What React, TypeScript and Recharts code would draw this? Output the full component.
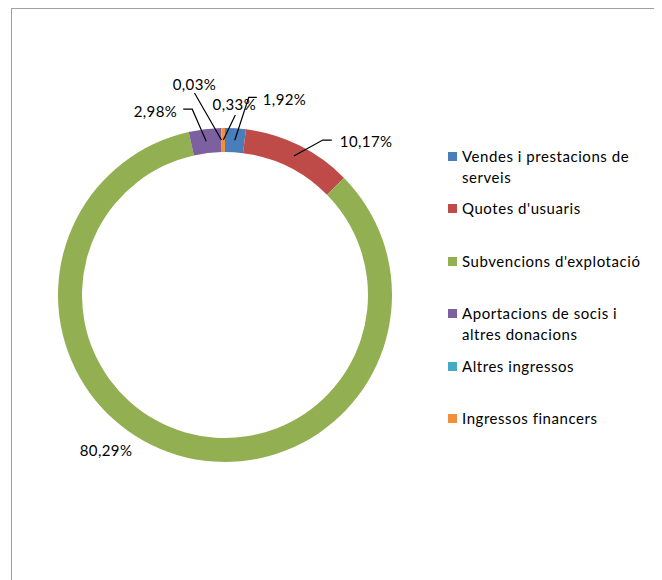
import { Cell, Legend, Pie, PieChart } from "recharts";

const categories = [
  "Vendes i prestacions de serveis",
  "Quotes d'usuaris",
  "Subvencions d'explotació",
  "Aportacions de socis i altres donacions",
  "Altres ingressos",
  "Ingressos financers",
];
const shares = [1.92, 10.17, 80.29, 2.98, 0.03, 0.33];
const shareLabels = ["1,92%", "10,17%", "80,29%", "2,98%", "0,03%", "0,33%"];
const colors = ["#4a7ebb", "#be4b48", "#92b052", "#7d60a0", "#46aac5", "#f38f3c"];

// manual label placement (like the hand-dragged labels in the original), relative to the slice's mid point on the ring
const labelLayout = [
  { elbow: [14, -43], tail: 8, text: [28, -41], anchor: "start" },
  { elbow: [29, -16], tail: 9, text: [46, -15], anchor: "start" },
  { elbow: null, tail: 0, text: [-75, 6], anchor: "middle" },
  { elbow: [-14, -32], tail: -9, text: [-29, -30], anchor: "end" },
  { elbow: [-27, -47], tail: 0, text: [-27, -56], anchor: "middle" },
  { elbow: [12, -25], tail: 0, text: [11, -36], anchor: "middle" },
];

const data = categories.map((name, i) => ({ name, value: shares[i], label: shareLabels[i] }));

const FONT = "Lato, 'Open Sans', sans-serif";
const RAD = Math.PI / 180;

function renderLabel(props: any) {
  const { cx, cy, midAngle, innerRadius, outerRadius, index } = props;
  const r = (innerRadius + outerRadius) / 2;
  const sx = cx + r * Math.cos(-midAngle * RAD);
  const sy = cy + r * Math.sin(-midAngle * RAD);
  const lay = labelLayout[index];
  let points = "";
  if (lay.elbow) {
    const ex = sx + lay.elbow[0];
    const ey = sy + lay.elbow[1];
    points = `${sx},${sy} ${ex},${ey} ${ex + lay.tail},${ey}`;
  }
  return (
    <g key={`lbl-${index}`}>
      {points && <polyline points={points} fill="none" stroke="#000" strokeWidth={1.2} />}
      <text
        x={sx + lay.text[0]}
        y={sy + lay.text[1]}
        textAnchor={lay.anchor as any}
        dominantBaseline="central"
        fontFamily={FONT}
        fontSize={15}
        letterSpacing={0.4}
        fill="#000"
      >
        {data[index].label}
      </text>
    </g>
  );
}

// legend keeps the data order (recharts would sort the payload by name)
function LegendBox() {
  return (
    <div style={{ fontFamily: FONT, fontSize: 15, letterSpacing: 0.55, color: "#000" }}>
      {data.map((entry, i) => (
        <div key={i} style={{ display: "flex", alignItems: "flex-start", height: 52.4 }}>
          <div style={{ width: 9, height: 9, marginTop: 6, marginRight: 5, background: colors[i], flexShrink: 0 }} />
          <div style={{ width: 190, lineHeight: "21px" }}>{entry.name}</div>
        </div>
      ))}
    </div>
  );
}

export default function App() {
  return (
    <div
      style={{
        marginLeft: 3,
        width: 645,
        height: 590,
        border: "1px solid #a0a0a0",
        borderBottom: "none",
        background: "#fff",
      }}
    >
      <PieChart width={645} height={590} margin={{ top: 0, right: 0, bottom: 0, left: 0 }}>
        <Pie
          data={data}
          dataKey="value"
          nameKey="name"
          cx={213}
          cy={286}
          innerRadius={143}
          outerRadius={167}
          startAngle={90}
          endAngle={-270}
          stroke="none"
          labelLine={false}
          label={renderLabel}
          isAnimationActive={false}
        >
          {data.map((_, i) => (
            <Cell key={i} fill={colors[i]} />
          ))}
        </Pie>
        <Legend
          layout="vertical"
          content={<LegendBox />}
          wrapperStyle={{ position: "absolute", left: 436, top: 137, width: 205 }}
        />
      </PieChart>
    </div>
  );
}
